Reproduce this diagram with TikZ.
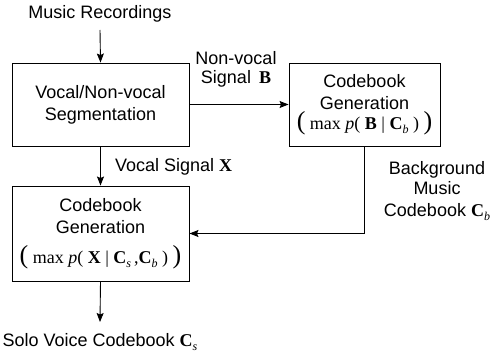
\documentclass[tikz,border=0pt]{standalone}
\usepackage{fontspec}
\setmainfont{Liberation Sans}
\newfontfamily\tmsfont{Liberation Serif}
\usetikzlibrary{arrows.meta}

\begin{document}
\begin{tikzpicture}[x=1pt,y=-1pt,
  blk/.style={draw, line width=0.9pt, inner sep=0, align=center,
    font=\fontsize{18}{22}\selectfont},
  lbl/.style={inner sep=0, outer sep=0, align=center,
    font=\fontsize{18}{20}\selectfont},
  flow/.style={line width=0.9pt, -{Stealth[length=9pt,width=7pt,inset=1.5pt]}}]
\def\bigpar#1{{\fontsize{26}{26}\selectfont#1}}
\def\vbf#1{{\tmsfont\bfseries#1}}
\def\sub#1{\raisebox{-4pt}{\fontsize{12}{12}\selectfont\tmsfont\itshape#1}}
\def\fml#1{{\tmsfont\bigpar{(}\ #1\ \bigpar{)}}}
\useasboundingbox (0,0) rectangle (493,358);
% blocks
\node[lbl, anchor=base] (rec) at (100,19) {Music Recordings};
\node[blk, minimum width=177, minimum height=83] (seg) at (100.5,104.5)
  {Vocal/Non-vocal\\Segmentation};
\node[blk, minimum width=151, minimum height=83] (cbB) at (364.5,104.5)
  {Codebook\\Generation\\[-2pt]
   \fml{max {\itshape p}(\ \vbf{B}\ |\ \vbf{C}\sub{b}\ )}};
\node[blk, minimum width=177, minimum height=95] (cbX) at (100.5,233.5)
  {Codebook\\Generation\\[8pt]
   \fml{max {\itshape p}(\ \vbf{X}\ |\ \vbf{C}\sub{s}\,,\vbf{C}\sub{b}\ )}};
\node[lbl, anchor=base] (solo) at (100,346) {Solo Voice Codebook \vbf{C}\sub{s}};
% connectors
\coordinate (in) at (100,30);
\draw[flow] (in) -- (seg.north);
\draw[flow] (seg.east) -- (cbB.west);
\draw[flow] (seg.south) -- (cbX.north);
\draw[flow] (cbB.south) |- (cbX.east);
\coordinate (out) at (100,322);
\draw[flow] (cbX.south) -- (out);
% labels
\node[lbl, anchor=base] (nvA) at (236,65) {Non-vocal};
\node[lbl, anchor=base] (nvB) at (236,84) {Signal \,\vbf{B}};
\node[lbl, anchor=base west] (vs) at (115,172) {Vocal Signal \vbf{X}};
\node[lbl, anchor=base] (bgA) at (437,175) {Background};
\node[lbl, anchor=base] (bgB) at (437,195) {Music};
\node[lbl, anchor=base] (bgC) at (437,217) {Codebook \vbf{C}\sub{b}};
\end{tikzpicture}
\end{document}
